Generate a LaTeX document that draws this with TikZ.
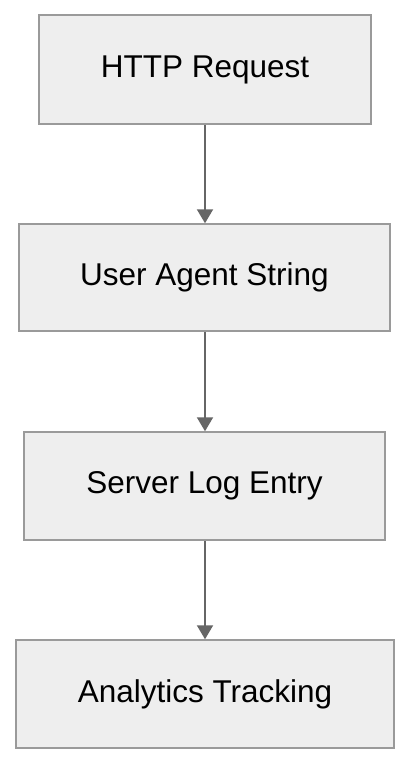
\documentclass[tikz,border=0pt]{standalone}
\usepackage{fontspec}
\setmainfont{Liberation Sans}
\usetikzlibrary{arrows.meta}
\definecolor{boxfill}{HTML}{EEEEEE}
\definecolor{boxline}{HTML}{9A9A9A}
\definecolor{arrowcol}{HTML}{666666}
\begin{document}
\begin{tikzpicture}[x=1pt,y=-1pt,
  stepbox/.style={draw=boxline,fill=boxfill,line width=1.5pt,inner sep=0pt,
    font=\fontsize{31.5}{36}\selectfont},
  flow/.style={draw=arrowcol,line width=2pt,-{Triangle[length=14pt,width=16pt]}}]
\useasboundingbox (0,0) rectangle (410,764);
\fill[white] (0,0) rectangle (410,764);
\node[stepbox,minimum width=332pt,minimum height=109pt] (a) at (205,69.5) {HTTP Request};
\node[stepbox,minimum width=371pt,minimum height=107pt] (b) at (204.5,277.5) {User Agent String};
\node[stepbox,minimum width=361pt,minimum height=108pt] (c) at (204.5,486) {Server Log Entry};
\node[stepbox,minimum width=378pt,minimum height=108pt] (d) at (205,694) {Analytics Tracking};
\draw[flow] (a.south) -- (a.south |- b.north);
\draw[flow] (a.south |- b.south) -- (a.south |- c.north);
\draw[flow] (a.south |- c.south) -- (a.south |- d.north);
\end{tikzpicture}
\end{document}
